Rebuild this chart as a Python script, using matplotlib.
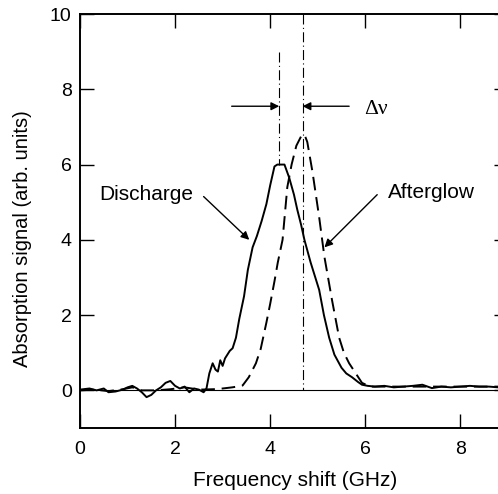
import matplotlib.pyplot as plt

plt.rcParams['font.family'] = ['Liberation Sans', 'DejaVu Sans']

# Discharge (solid line)
dis_x = [0, 0.2, 0.35, 0.5, 0.6, 0.75, 0.9, 1.0, 1.1, 1.2, 1.3, 1.4, 1.5, 1.6, 1.7, 1.8,
         1.9, 2.0, 2.1, 2.2, 2.3, 2.4, 2.5, 2.6, 2.66, 2.72, 2.79, 2.85, 2.9, 2.95, 3.0,
         3.05, 3.1, 3.15, 3.21, 3.28, 3.35, 3.45, 3.53, 3.63, 3.72, 3.82, 3.92, 4.0, 4.09,
         4.15, 4.3, 4.4, 4.5, 4.57, 4.65, 4.72, 4.85, 5.03, 5.13, 5.24, 5.35, 5.5, 5.6,
         5.72, 5.85, 5.93, 6.05, 6.2, 6.4, 6.6, 6.8, 7.0, 7.2, 7.4, 7.6, 7.8, 8.0, 8.2,
         8.4, 8.6, 8.8, 9.0]
dis_y = [0.02, 0.05, 0.0, 0.05, -0.05, -0.03, 0.02, 0.08, 0.12, 0.05, -0.05, -0.18,
         -0.12, 0.0, 0.08, 0.2, 0.25, 0.12, 0.05, 0.1, -0.05, 0.05, 0.02, -0.05, 0.05,
         0.45, 0.72, 0.55, 0.5, 0.8, 0.65, 0.85, 0.95, 1.05, 1.12, 1.4, 1.9, 2.5, 3.2,
         3.8, 4.1, 4.5, 4.95, 5.45, 5.95, 6.0, 6.0, 5.65, 5.2, 4.8, 4.4, 4.0, 3.4, 2.67,
         2.0, 1.4, 0.95, 0.6, 0.45, 0.35, 0.22, 0.15, 0.12, 0.1, 0.12, 0.08, 0.1, 0.12,
         0.15, 0.06, 0.1, 0.08, 0.1, 0.12, 0.1, 0.1, 0.08, 0.1]

# Afterglow (dashed line)
aft_x = [0, 0.3, 0.6, 0.9, 1.1, 1.3, 1.6, 1.9, 2.2, 2.5, 2.8, 3.0, 3.2, 3.3, 3.42, 3.55,
         3.7, 3.8, 3.92, 4.0, 4.09, 4.16, 4.26, 4.36, 4.45, 4.55, 4.65, 4.72, 4.78, 4.89,
         5.03, 5.14, 5.3, 5.45, 5.55, 5.66, 5.8, 5.93, 6.1, 6.5, 7.0, 7.5, 8.0, 8.5, 9.0]
aft_y = [0, 0.02, -0.02, 0.03, 0.08, 0.0, 0.0, 0.03, 0.08, 0.02, 0.03, 0.05, 0.08, 0.1,
         0.13, 0.35, 0.72, 1.1, 1.8, 2.3, 2.9, 3.4, 4.0, 5.4, 6.0, 6.5, 6.75, 6.8, 6.6,
         5.8, 4.6, 3.55, 2.4, 1.4, 1.0, 0.72, 0.45, 0.2, 0.1, 0.1, 0.1, 0.1, 0.1, 0.1, 0.1]

xticks = [0, 2, 4, 6, 8]
yticks = [0, 2, 4, 6, 8, 10]

fig = plt.figure(figsize=(4.98, 4.94), dpi=100)
ax = fig.add_axes([0.1606, 0.1336, 0.8594, 0.838])

ax.axhline(0, color='k', lw=0.8)
ax.plot(dis_x, dis_y, color='k', lw=1.4)
ax.plot(aft_x, aft_y, color='k', lw=1.4, linestyle=(0, (7, 3.5)))

# peak markers
ax.plot([4.19, 4.19], [9.0, 6.0], color='k', lw=0.8, linestyle=(0, (9, 3, 1, 3)))
ax.plot([4.68, 4.68], [10, 0], color='k', lw=0.8, linestyle=(0, (9, 3, 1, 3)))

arr = dict(arrowstyle='-|>', color='k', lw=1.0, mutation_scale=12, shrinkA=0, shrinkB=0)
ax.annotate('', xy=(4.19, 7.55), xytext=(3.19, 7.55), arrowprops=arr)
ax.annotate('', xy=(4.68, 7.55), xytext=(5.66, 7.55), arrowprops=arr)
ax.text(5.97, 7.45, 'Δν', fontsize=15.5, va='center', ha='left',
        fontfamily='Liberation Serif')

# labels with pointer arrows
ax.text(1.4, 5.2, 'Discharge', fontsize=15, ha='center', va='center')
ax.annotate('', xy=(3.56, 4.0), xytext=(2.6, 5.15), arrowprops=arr)
ax.text(7.39, 5.25, 'Afterglow', fontsize=15, ha='center', va='center')
ax.annotate('', xy=(5.14, 3.8), xytext=(6.25, 5.2), arrowprops=arr)

ax.set_xlim(0, 9)
ax.set_ylim(-1, 10)
ax.set_xticks(xticks)
ax.set_yticks(yticks)
ax.tick_params(direction='in', length=10, width=1.0, top=True, right=True,
               labelsize=14)
ax.tick_params(axis='x', pad=9)
ax.tick_params(axis='y', pad=6)
for s in ax.spines.values():
    s.set_linewidth(1.4)

fig.text(295 / 498, 1 - 486 / 494, 'Frequency shift (GHz)', fontsize=15,
         ha='center', va='baseline')
fig.text(23 / 498, 1 - 239 / 494, 'Absorption signal (arb. units)', fontsize=14.5,
         ha='center', va='center', rotation=90)

fig.savefig('out.png', dpi=100)
